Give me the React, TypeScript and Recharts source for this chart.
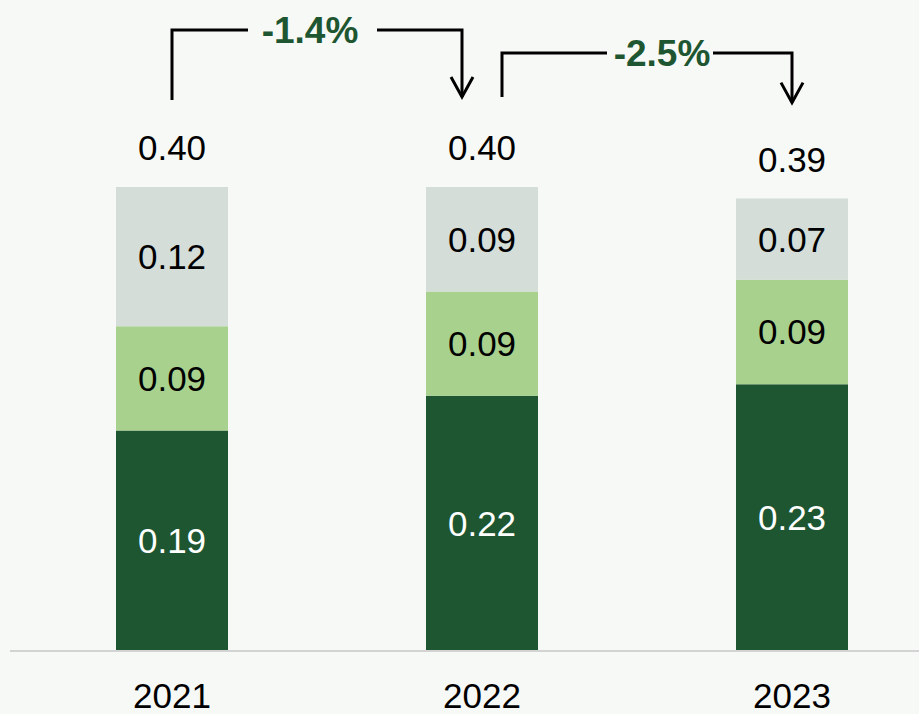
import React from 'react';
import { BarChart, Bar, XAxis, YAxis, LabelList } from 'recharts';

// ---- data ----
const categories = ['2021', '2022', '2023'];
const baseValues = [0.19, 0.22, 0.23];
const midValues = [0.09, 0.09, 0.09];
const topValues = [0.12, 0.09, 0.07];
const totalLabels = ['0.40', '0.40', '0.39'];
const changeLabels = ['-1.4%', '-2.5%'];

const data = categories.map((c, i) => ({
  year: c,
  base: baseValues[i],
  mid: midValues[i],
  top: topValues[i],
}));
const totals = categories.map((_, i) => baseValues[i] + midValues[i] + topValues[i]);

// ---- layout / style ----
const CHART_W = 947;
const CHART_H = 714;
const MARGIN = { top: 187, right: 0, bottom: 0, left: 10 };
const PAD_L = 7;
const PAD_R = 0;
const BAND = (CHART_W - MARGIN.left - MARGIN.right - PAD_L - PAD_R) / categories.length;
const FONT = '"Liberation Sans", Arial, sans-serif';
const DARK = '#1e5631';
const LIGHT = '#a9d18e';
const GREY = '#d4ddd7';
const BG = '#f7f9f6';

const BRACKET_STYLE = [
  { leftDx: 0, rightDx: -20, startGap: 87, tipGap: 90, lineY: 30, textDx: -7, gapL: 62, gapR: 67 },
  { leftDx: 20, rightDx: 0, startGap: 90, tipGap: 96, lineY: 53, textDx: 15, gapL: 55, gapR: 51 },
];

const TopContent = (props: any) => {
  const { x, y, width, height, index } = props;
  const i = index ?? 0;
  const cx = Number(x) + Number(width) / 2;
  const top = Number(y);
  const ppu = Number(height) / topValues[i];
  const els: any[] = [];
  els.push(
    <text key="t" x={cx} y={top - 27} textAnchor="middle" fontSize={35} fontFamily={FONT} fill="#000">
      {totalLabels[i]}
    </text>
  );
  if (i < changeLabels.length) {
    const s = BRACKET_STYLE[i];
    const nextTop = top + (totals[i] - totals[i + 1]) * ppu;
    const leftX = cx + s.leftDx;
    const rightX = cx + BAND + s.rightDx;
    const startY = top - s.startGap;
    const tipY = nextTop - s.tipGap;
    const textX = (leftX + rightX) / 2 + s.textDx;
    els.push(
      <g key="b" stroke="#000" strokeWidth={3} fill="none">
        <polyline points={`${leftX},${startY} ${leftX},${s.lineY} ${textX - s.gapL},${s.lineY}`} />
        <polyline points={`${textX + s.gapR},${s.lineY} ${rightX},${s.lineY} ${rightX},${tipY}`} />
        <polyline points={`${rightX - 11},${tipY - 20} ${rightX},${tipY} ${rightX + 11},${tipY - 20}`} />
      </g>
    );
    els.push(
      <text key="c" x={textX} y={s.lineY + 13} textAnchor="middle" fontSize={37} fontWeight="bold" fontFamily={FONT} fill={DARK}>
        {changeLabels[i]}
      </text>
    );
  }
  return <g>{els}</g>;
};

const YearTick = (props: any) => {
  const { x, y, payload } = props;
  return (
    <text x={x} y={Number(y) + 57} textAnchor="middle" fontSize={35} fontFamily={FONT} fill="#000">
      {payload.value}
    </text>
  );
};

const fmt = (v: any) => Number(v).toFixed(2);

export default function App() {
  return (
    <div style={{ position: 'absolute', left: 0, top: 0, width: 919, height: 714, overflow: 'hidden', background: BG }}>
      <BarChart width={CHART_W} height={CHART_H} data={data} margin={MARGIN}>
        <XAxis
          dataKey="year"
          height={63}
          padding={{ left: PAD_L, right: PAD_R }}
          axisLine={{ stroke: '#d3d3d3', strokeWidth: 2 }}
          tickLine={false}
          tickSize={0}
          tickMargin={0}
          tick={<YearTick />}
          interval={0}
        />
        <YAxis hide domain={[0, 0.4]} />
        <Bar dataKey="base" stackId="a" fill={DARK} barSize={112} isAnimationActive={false}>
          <LabelList dataKey="base" position="center" formatter={fmt} fill="#fff" fontSize={35} fontFamily={FONT} />
        </Bar>
        <Bar dataKey="mid" stackId="a" fill={LIGHT} barSize={112} isAnimationActive={false}>
          <LabelList dataKey="mid" position="center" formatter={fmt} fill="#000" fontSize={35} fontFamily={FONT} />
        </Bar>
        <Bar dataKey="top" stackId="a" fill={GREY} barSize={112} isAnimationActive={false}>
          <LabelList dataKey="top" position="center" formatter={fmt} fill="#000" fontSize={35} fontFamily={FONT} />
          <LabelList dataKey="top" content={<TopContent />} />
        </Bar>
      </BarChart>
    </div>
  );
}
